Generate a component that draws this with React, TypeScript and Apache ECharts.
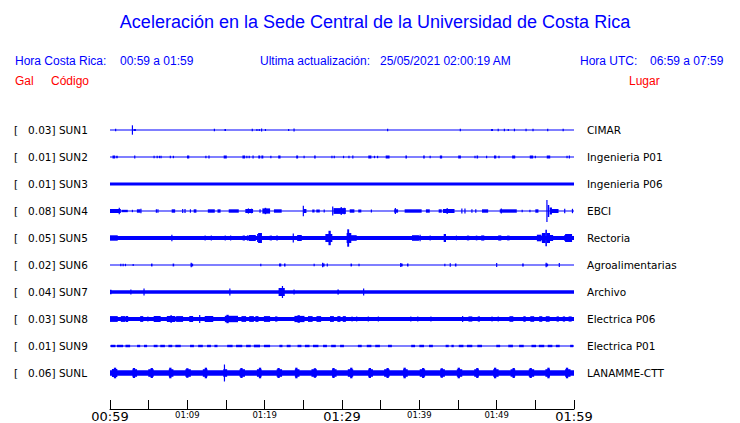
import React, { useEffect, useRef } from 'react';
import * as echarts from 'echarts';

// ---- Data ----
const stationCodes = ['SUN1', 'SUN2', 'SUN3', 'SUN4', 'SUN5', 'SUN6', 'SUN7', 'SUN8', 'SUN9', 'SUNL'];
const peakGal = ['0.03', '0.01', '0.01', '0.08', '0.05', '0.02', '0.04', '0.03', '0.01', '0.06'];
const places = ['CIMAR', 'Ingenieria P01', 'Ingenieria P06', 'EBCI', 'Rectoria', 'Agroalimentarias', 'Archivo', 'Electrica P06', 'Electrica P01', 'LANAMME-CTT'];
const timeTicks = ['00:59', '01:04', '01:09', '01:14', '01:19', '01:24', '01:29', '01:34', '01:39', '01:44', '01:49', '01:54', '01:59'];

// background noise half-amplitude of each trace
const baseLevel = [0.6, 0.6, 1.5, 0.6, 1.9, 0.6, 1.8, 2.0, 0.55, 2.7];

// bursts: [minute after 00:59, half-amplitude, duration in minutes]
const sun1Events = [[0.73,1.3,0.1],[2.9,4.7,0.12],[3.2,1.0,0.3],[13.5,1.3,0.1],[14.9,1.0,0.2],[18.4,1.3,0.1],[19.0,0.9,0.1],[19.3,1.0,0.1],[19.6,1.5,0.15],[20.1,1.0,0.1],[23.1,1.0,0.08],[23.8,1.5,0.1],[35.9,1.3,0.1],[45.3,1.3,0.1],[49.4,1.0,0.25],[50.2,1.3,0.1],[51.0,1.3,0.1],[51.5,0.9,0.1],[52.3,1.3,0.1],[53.8,1.3,0.1],[54.7,1.3,0.1],[56.6,1.3,0.1],[58.6,1.3,0.1]];
const sun2Events = [[0.5,1.5,0.35],[0.9,1.2,0.2],[3.2,1.5,0.15],[5.7,1.2,0.1],[6.1,1.2,0.1],[6.4,1.2,0.1],[6.6,1.2,0.1],[7.8,1.2,0.1],[8.2,1.2,0.1],[10.1,1.5,0.3],[12.4,1.2,0.1],[12.8,1.5,0.15],[14.9,1.5,0.4],[17.3,1.5,0.35],[17.7,1.2,0.1],[18.0,1.2,0.1],[18.5,1.5,0.15],[19.3,1.5,0.25],[19.7,1.5,0.25],[20.8,1.2,0.1],[21.9,1.5,0.3],[24.2,1.5,0.25],[25.1,1.2,0.1],[26.5,1.5,0.2],[28.7,1.2,0.1],[29.0,1.2,0.1],[30.2,1.2,0.1],[30.9,1.2,0.1],[31.4,1.5,0.15],[33.6,1.5,0.4],[34.2,1.2,0.1],[34.6,1.2,0.1],[35.9,1.5,0.5],[38.3,1.5,0.2],[40.6,1.5,0.2],[41.4,1.2,0.1],[42.8,1.5,0.3],[45.2,1.5,0.35],[47.2,1.2,0.1],[47.5,1.5,0.2],[48.7,1.2,0.1],[49.8,1.5,0.3],[50.3,1.2,0.1],[52.2,1.5,0.4],[54.5,1.5,0.45],[55.0,1.2,0.1],[56.7,1.5,0.45],[59.1,1.2,0.1],[59.4,1.5,0.15]];
const sun3Events: number[][] = [];
const sun4Events = [[0.7,2.0,1.4],[1.2,3.2,0.15],[1.9,1.2,0.8],[2.9,1.2,0.1],[3.7,1.7,0.45],[4.0,2.2,0.1],[6.0,1.7,0.1],[6.2,1.7,0.1],[8.2,1.7,0.45],[9.4,2.0,0.1],[9.7,2.0,0.1],[10.4,1.7,0.1],[11.0,1.7,0.35],[13.1,1.7,0.9],[14.1,1.7,0.4],[16.0,1.7,1.3],[18.0,2.0,1.0],[17.9,2.6,0.15],[18.3,2.3,0.15],[19.4,1.7,0.1],[20.2,2.6,1.0],[20.1,3.2,0.2],[21.7,1.7,1.0],[25.0,5.3,0.15],[25.2,2.0,0.4],[26.3,1.5,0.3],[26.9,1.5,0.45],[27.7,1.5,0.1],[29.7,2.9,1.6],[28.8,4.5,0.15],[29.9,4.0,0.15],[30.3,3.2,0.15],[31.3,1.7,0.6],[32.3,1.5,0.4],[33.8,1.5,0.1],[36.9,3.0,0.15],[37.0,1.7,0.5],[39.2,1.7,2.2],[41.1,1.7,0.5],[42.7,1.7,0.4],[43.8,2.0,1.5],[43.6,3.0,0.15],[45.5,2.5,0.1],[45.9,2.5,0.1],[46.8,1.7,0.1],[47.3,1.7,0.1],[48.5,1.7,0.8],[51.5,1.7,2.2],[50.6,2.5,0.15],[53.3,1.3,0.1],[54.3,1.3,0.1],[55.2,1.7,0.4],[56.5,11,0.12],[56.7,6.0,0.2],[57.0,3.5,0.3],[57.5,2.0,1.0],[58.8,2.2,0.1],[59.8,2.2,0.15]];
const sun5Events = [[0.5,2.7,1.0],[8.0,3.3,0.15],[12.3,2.4,0.1],[13.1,2.4,0.1],[14.9,2.4,0.1],[15.6,2.4,0.1],[17.3,2.5,0.3],[17.8,2.6,0.2],[18.4,3.0,0.9],[19.4,5.0,0.5],[19.1,4.0,0.15],[20.8,2.4,0.3],[21.6,2.4,0.2],[23.7,4.5,0.12],[24.5,3.0,0.6],[28.4,7.2,0.3],[28.3,4.0,0.9],[30.8,8.7,0.25],[30.9,5.0,0.6],[31.5,2.8,0.8],[39.5,2.8,0.9],[40.1,3.3,0.15],[41.4,2.5,0.1],[43.3,4.0,0.3],[44.8,2.4,0.1],[46.3,2.4,0.3],[47.4,2.4,0.2],[48.2,2.6,0.4],[50.4,2.6,0.4],[51.5,2.4,0.3],[55.5,3.3,0.6],[56.1,5.0,0.5],[56.4,8.3,0.2],[56.7,5.0,0.4],[57.1,3.0,0.4],[59.3,4.0,0.9],[58.9,3.0,0.3]];
const sun6Events = [[1.4,1.2,0.1],[1.7,1.2,0.1],[2.0,1.2,0.1],[3.0,0.9,0.08],[5.4,1.4,0.2],[8.2,1.4,0.2],[10.5,2.3,0.12],[10.6,1.4,0.3],[19.5,1.2,0.1],[22.0,1.5,0.3],[22.6,1.4,0.2],[26.4,1.2,0.15],[27.5,2.3,0.12],[27.6,1.5,0.3],[28.1,1.5,0.15],[31.2,1.4,0.2],[32.2,1.2,0.08],[37.6,2.0,0.12],[37.7,1.4,0.3],[38.5,1.5,0.2],[43.3,1.2,0.15],[44.0,1.7,0.1],[44.7,1.5,0.2],[50.0,2.0,0.1],[53.4,1.4,0.2],[56.4,2.3,0.12],[56.5,1.4,0.3],[58.1,2.0,0.1]];
const sun7Events = [[0.1,2.2,0.2],[2.7,2.5,0.15],[4.4,3.5,0.12],[15.5,3.5,0.12],[22.3,6.0,0.15],[22.2,4.0,0.8],[23.8,2.6,0.1],[29.5,2.4,0.2],[32.8,3.5,0.12]];
const sun8Events = [[0.5,2.9,1.0],[1.7,2.9,0.6],[2.2,2.9,0.3],[4.1,2.9,0.4],[4.9,2.6,0.1],[6.1,3.0,0.9],[7.9,3.0,1.1],[7.9,4.0,0.12],[9.0,2.9,0.9],[10.5,3.0,0.5],[11.6,4.0,0.15],[12.8,3.0,1.1],[15.7,3.2,1.7],[15.2,4.2,0.3],[17.3,2.9,0.6],[18.3,2.9,0.6],[19.0,2.9,0.4],[20.3,2.9,0.8],[21.5,2.6,0.3],[24.5,3.1,1.3],[24.4,3.8,0.3],[25.9,2.9,0.6],[27.0,2.9,0.6],[28.7,2.9,0.5],[29.6,2.9,0.4],[30.3,2.9,0.4],[31.3,2.6,0.1],[31.9,2.6,0.1],[33.4,2.6,0.1],[34.7,2.6,0.1],[38.9,2.6,0.1],[39.8,2.6,0.1],[41.5,2.6,0.1],[45.6,3.0,0.12],[46.6,2.6,0.5],[47.7,2.6,0.3],[49.4,2.6,0.1],[50.2,2.6,0.1],[51.9,2.8,0.5],[53.6,2.8,0.3],[54.6,2.8,0.5],[55.7,2.8,0.4],[56.6,2.8,0.5],[57.9,2.6,0.3],[58.7,2.6,0.3],[59.5,2.6,0.4]];
const sun9Events = [[0.4,1.2,0.6],[1.3,1.2,0.8],[2.3,1.2,0.6],[3.7,1.2,0.4],[4.6,1.2,0.4],[5.9,1.2,0.5],[6.8,1.2,0.6],[7.8,1.2,0.5],[8.8,1.2,0.7],[10.6,1.2,0.5],[11.7,1.2,0.6],[12.8,1.2,0.5],[13.7,1.2,0.4],[15.5,1.2,0.7],[16.7,1.2,0.8],[17.9,1.2,0.6],[19.0,1.3,0.8],[20.3,1.2,0.8],[22.1,1.2,0.4],[23.1,1.2,0.5],[24.5,1.2,0.5],[25.5,1.2,0.6],[26.6,1.2,0.7],[27.8,1.2,0.5],[28.9,1.2,0.6],[30.0,1.2,0.5],[32.3,1.2,0.5],[33.5,1.2,0.6],[34.6,1.2,0.6],[36.2,1.2,0.5],[39.2,1.2,0.5],[40.3,1.2,0.6],[41.5,1.2,0.5],[43.6,1.2,0.4],[44.3,1.2,0.3],[45.4,1.2,0.6],[46.5,1.2,0.7],[47.8,1.2,0.6],[50.2,1.2,0.5],[51.8,1.2,0.6],[53.2,1.2,0.6],[54.8,1.2,0.6],[55.8,1.2,0.7],[56.9,1.2,0.6],[57.9,1.2,0.5],[59.7,1.2,0.4]];
const sunlEvents = [[0.65,5.3,0.3],[0.6,4.0,0.7],[3.1,5.0,0.3],[3.2,3.8,0.6],[5.4,5.0,0.3],[5.3,3.8,0.7],[7.8,5.3,0.3],[7.9,3.8,0.6],[10.0,4.8,0.3],[10.1,3.8,0.7],[12.4,5.3,0.3],[12.3,3.8,0.6],[14.8,8.5,0.12],[14.9,3.8,0.5],[17.0,5.0,0.3],[17.1,3.8,0.7],[19.4,5.3,0.3],[19.3,3.8,0.6],[21.8,5.0,0.3],[21.9,3.8,0.7],[24.1,5.3,0.3],[24.2,3.8,0.6],[26.5,4.8,0.3],[26.4,3.8,0.7],[28.9,5.0,0.3],[29.0,3.8,0.6],[31.2,5.3,0.3],[31.1,3.8,0.7],[33.6,5.0,0.3],[33.7,3.8,0.6],[35.9,5.0,0.3],[35.8,3.8,0.7],[38.1,5.3,0.3],[38.2,3.8,0.6],[40.5,5.0,0.3],[40.4,3.8,0.7],[42.9,4.8,0.3],[43.0,3.8,0.6],[45.1,5.3,0.3],[45.2,3.8,0.7],[47.5,5.0,0.3],[47.4,3.8,0.6],[49.8,5.3,0.3],[49.9,3.8,0.7],[52.2,5.0,0.3],[52.1,3.8,0.6],[54.4,5.0,0.3],[54.5,3.8,0.7],[56.7,5.3,0.3],[56.6,3.8,0.6],[59.1,5.3,0.3],[59.2,3.8,0.7]];

const traceEvents = [sun1Events, sun2Events, sun3Events, sun4Events, sun5Events, sun6Events, sun7Events, sun8Events, sun9Events, sunlEvents];

// ---- Layout / style ----
const BLUE = '#0000ff';
const RED = '#ff0000';
const TRACE_GAP = 27;
const LABEL_FONT = 'DejaVu Sans';
const HEAD_FONT = 'Liberation Sans';

function buildData() {
  const out: number[][] = [];
  traceEvents.forEach((events, k) => {
    out.push([30, baseLevel[k], 60, k]);
    events.forEach((e) => out.push([e[0], e[1], e[2], k]));
  });
  return out;
}

const renderItem = (params: any, api: any) => {
  const t = api.value(0);
  const a = api.value(1);
  const w = api.value(2);
  const k = api.value(3);
  const c = api.coord([t, k * TRACE_GAP]);
  const s = api.size([w, a]);
  const cs = params.coordSys;
  const wpx = Math.max(1.2, Math.abs(s[0]));
  let x0 = c[0] - wpx / 2;
  let x1 = c[0] + wpx / 2;
  x0 = Math.max(x0, cs.x);
  x1 = Math.min(x1, cs.x + cs.width);
  const h = Math.max(0.6, Math.abs(s[1]));
  return {
    type: 'rect',
    shape: { x: x0, y: c[1] - h, width: Math.max(0, x1 - x0), height: 2 * h },
    style: { fill: BLUE },
  };
};

const txt = (x: number, y: number, text: string, size: number, fill: string, align = 'left') => ({
  type: 'text',
  x,
  y,
  silent: true,
  style: {
    text,
    fill,
    fontSize: size,
    fontFamily: HEAD_FONT,
    align,
    textAlign: align,
    verticalAlign: 'middle',
    textVerticalAlign: 'middle',
  },
});

export default function App() {
  const ref = useRef<HTMLDivElement>(null);
  useEffect(() => {
    if (!ref.current) return;
    const chart = echarts.init(ref.current, undefined, { renderer: 'svg' });
    const yAxisBase = {
      type: 'value',
      min: -TRACE_GAP,
      max: TRACE_GAP * 10 + 9,
      interval: TRACE_GAP,
      inverse: true,
      axisLine: { show: false },
      axisTick: { show: false },
      splitLine: { show: false },
    };
    const idxOf = (v: number) => {
      const i = Math.round(v / TRACE_GAP);
      return Math.abs(v - i * TRACE_GAP) < 0.01 && i >= 0 && i < stationCodes.length ? i : -1;
    };
    chart.setOption({
      animation: false,
      backgroundColor: '#ffffff',
      grid: { left: 110, right: 166, top: 103, bottom: 14, containLabel: false, outerBoundsMode: 'none' },
      xAxis: {
        type: 'value',
        min: 0,
        max: 60,
        interval: 5,
        position: 'bottom',
        axisLine: { show: true, onZero: false, lineStyle: { color: '#000', width: 1 } },
        axisTick: { show: true, inside: true, length: 9, lineStyle: { color: '#000', width: 1 } },
        splitLine: { show: false },
        axisLabel: {
          margin: 1,
          showMinLabel: true,
          showMaxLabel: true,
          hideOverlap: false,
          formatter: (v: number) => {
            const i = Math.round(v / 5);
            if (i % 2 !== 0) return '';
            const lab = timeTicks[i];
            return i % 6 === 0 ? `{big|${lab}}` : `{small|${lab}}`;
          },
          rich: {
            big: { fontSize: 13, fontFamily: LABEL_FONT, color: '#000' },
            small: { fontSize: 8.5, fontFamily: LABEL_FONT, color: '#000' },
          },
        },
      },
      yAxis: [
        {
          ...yAxisBase,
          position: 'left',
          axisLabel: {
            align: 'left',
            margin: 96,
            color: '#000',
            fontSize: 10.5,
            fontFamily: LABEL_FONT,
            formatter: (v: number) => {
              const i = idxOf(v);
              return i < 0 ? '' : `[\u00a0\u00a0\u00a0${peakGal[i]}] ${stationCodes[i]}`;
            },
          },
        },
        {
          ...yAxisBase,
          position: 'right',
          axisLabel: {
            align: 'left',
            margin: 13,
            color: '#000',
            fontSize: 10.5,
            fontFamily: LABEL_FONT,
            formatter: (v: number) => {
              const i = idxOf(v);
              return i < 0 ? '' : places[i];
            },
          },
        },
      ],
      series: [
        {
          type: 'custom',
          silent: true,
          xAxisIndex: 0,
          yAxisIndex: 0,
          renderItem,
          encode: { x: 0, y: 1 },
          data: buildData(),
        },
      ],
      graphic: [
        txt(375, 22, 'Aceleración en la Sede Central de la Universidad de Costa Rica', 18, BLUE, 'center'),
        txt(15, 61, 'Hora Costa Rica:', 12, BLUE),
        txt(120, 61, '00:59 a 01:59', 12, BLUE),
        txt(260, 61, 'Ultima actualización:', 12, BLUE),
        txt(380, 61, '25/05/2021 02:00:19 AM', 12, BLUE),
        txt(580, 61, 'Hora UTC:', 12, BLUE),
        txt(650, 61, '06:59 a 07:59', 12, BLUE),
        txt(15, 81, 'Gal', 12, RED),
        txt(51, 81, 'Código', 12, RED),
        txt(629, 81, 'Lugar', 12, RED),
      ],
    });
    return () => chart.dispose();
  }, []);
  return (
    <div
      ref={ref}
      style={{ position: 'fixed', left: 0, top: 0, width: 740, height: 423, background: '#fff' }}
    />
  );
}
